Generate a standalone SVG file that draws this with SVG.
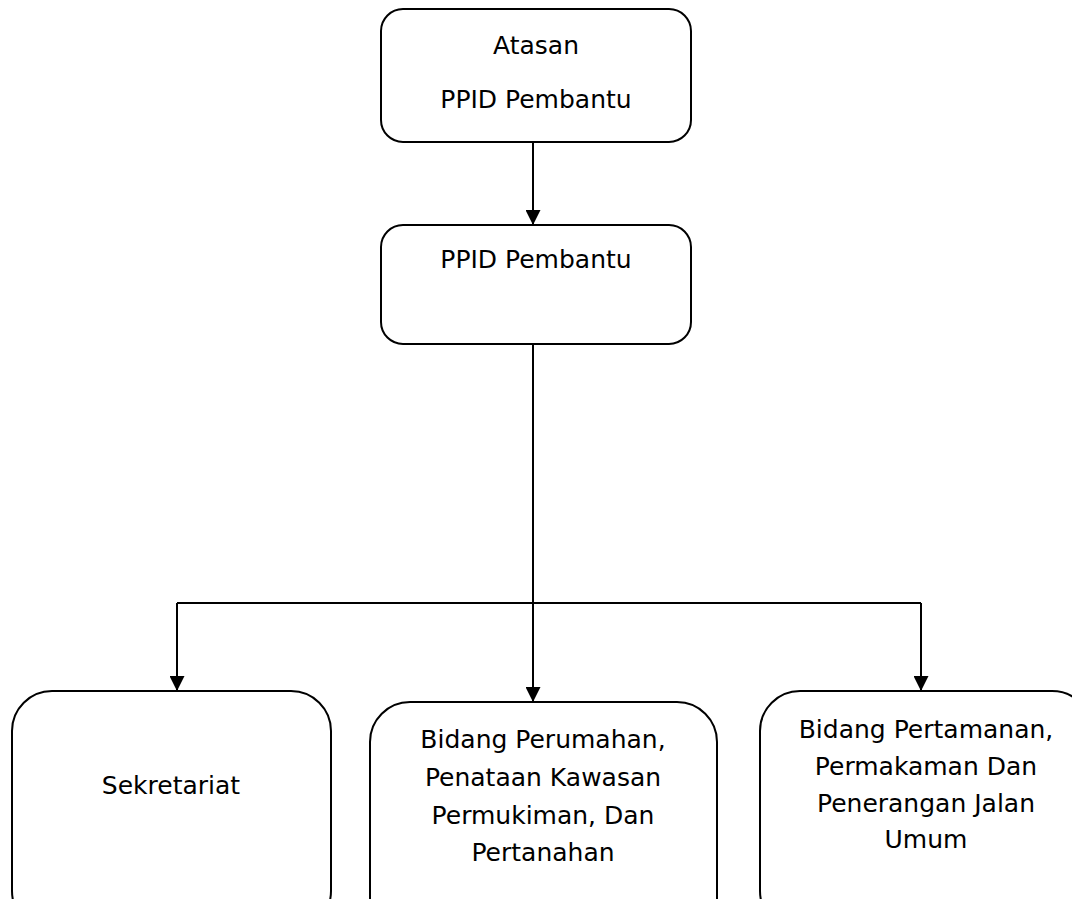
<svg xmlns="http://www.w3.org/2000/svg" width="1072" height="899" viewBox="0 0 1072 899">
<defs>
<marker id="arr" markerWidth="15" markerHeight="15" refX="14" refY="7.5" orient="auto" markerUnits="userSpaceOnUse">
<path d="M0,0 L15,7.5 L0,15 Z" fill="#000"/>
</marker>
<style>
.box{fill:#fff;stroke:#000;stroke-width:2}
.t{font-family:"DejaVu Sans",Verdana,sans-serif;font-size:25px;fill:#000;text-anchor:middle}
.c{fill:none;stroke:#000;stroke-width:2}
</style>
</defs>
<rect width="1072" height="899" fill="#fff"/>
<g id="connectors">
<path class="c" d="M533,142 V224" marker-end="url(#arr)"/>
<path class="c" d="M533,344 V701" marker-end="url(#arr)"/>
<path class="c" d="M177,603 H921"/>
<path class="c" d="M177,603 V690" marker-end="url(#arr)"/>
<path class="c" d="M921,603 V690" marker-end="url(#arr)"/>
</g>
<g id="atasan">
<rect class="box" x="381" y="9" width="310" height="133" rx="22"/>
<text class="t" x="536" y="54">Atasan</text>
<text class="t" x="536" y="108">PPID Pembantu</text>
</g>
<g id="ppid">
<rect class="box" x="381" y="225" width="310" height="119" rx="22"/>
<text class="t" x="536" y="268">PPID Pembantu</text>
</g>
<g id="sekretariat">
<rect class="box" x="12" y="691" width="319" height="240" rx="40"/>
<text class="t" x="171" y="794">Sekretariat</text>
</g>
<g id="perumahan">
<rect class="box" x="370" y="702" width="347" height="240" rx="40"/>
<text class="t" x="543" y="748">Bidang Perumahan,</text>
<text class="t" x="543" y="786">Penataan Kawasan</text>
<text class="t" x="543" y="824">Permukiman, Dan</text>
<text class="t" x="543" y="861">Pertanahan</text>
</g>
<g id="pertamanan">
<rect class="box" x="760" y="691" width="332" height="240" rx="40"/>
<text class="t" x="926" y="738">Bidang Pertamanan,</text>
<text class="t" x="926" y="775">Permakaman Dan</text>
<text class="t" x="926" y="812">Penerangan Jalan</text>
<text class="t" x="926" y="848">Umum</text>
</g>
</svg>
